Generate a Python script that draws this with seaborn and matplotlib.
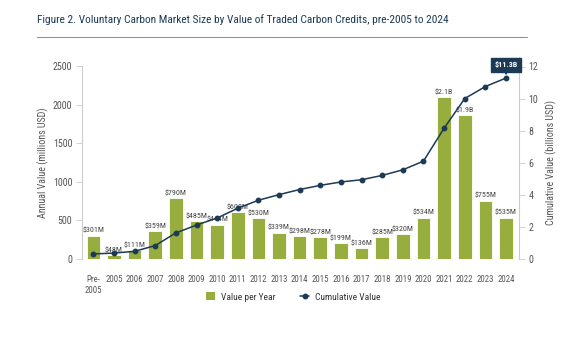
import matplotlib
matplotlib.use("Agg")
import matplotlib.pyplot as plt
import seaborn as sns
import pandas as pd
import numpy as np
from matplotlib.lines import Line2D
from matplotlib.patches import Patch
from matplotlib import font_manager as fm

categories = ["Pre-\n2005", "2005", "2006", "2007", "2008", "2009", "2010", "2011", "2012",
              "2013", "2014", "2015", "2016", "2017", "2018", "2019", "2020", "2021",
              "2022", "2023", "2024"]
annual_values = [301, 48, 111, 359, 790, 485, 444, 602, 530, 339, 298, 278, 199, 136,
                 285, 320, 534, 2100, 1870, 755, 535]
bar_labels = ["$301M", "$48M", "$111M", "$359M", "$790M", "$485M", "$444M", "$602M", "$530M",
              "$339M", "$298M", "$278M", "$199M", "$136M", "$285M", "$320M", "$534M",
              "$2.1B", "$1.9B", "$755M", "$535M"]
cumulative_values = [0.30, 0.35, 0.46, 0.82, 1.61, 2.10, 2.54, 3.15, 3.65, 4.00, 4.32,
                     4.58, 4.79, 4.93, 5.20, 5.55, 6.09, 8.15, 10.00, 10.75, 11.28]

sns.set_theme(style="white")
available = {f.name for f in fm.fontManager.ttflist}
cond = [f for f in ["Roboto Condensed", "DejaVu Sans Condensed", "Liberation Sans Narrow"] if f in available]
plt.rcParams['font.family'] = cond + ['Roboto', 'DejaVu Sans']

GREEN = "#97ad3d"
NAVY = "#1c3a55"
GRAY = "#555555"
SPINE = "#cccccc"

df = pd.DataFrame({"cat": categories, "annual": annual_values, "cum": cumulative_values})
df["x"] = np.arange(len(df))

fig = plt.figure(figsize=(5.81, 3.39), dpi=100)
ax = fig.add_axes([82/581, 1-258.7/339, (519-82)/581, (258.7-66.5)/339])

sns.barplot(data=df, x="cat", y="annual", color=GREEN, width=0.66, ax=ax,
            saturation=1, edgecolor="white", linewidth=0.6)
ax.set_ylim(0, 2500)
ax.set_xlim(-0.55, 20.63)
ax.set_yticks([0, 500, 1000, 1500, 2000, 2500])
for i, (v, lab) in enumerate(zip(annual_values, bar_labels)):
    ax.text(i, v + 25, lab, ha="center", va="bottom", fontsize=5.8, color="#444444")

ax2 = ax.twinx()
ax2.plot(df["x"], df["cum"], color=NAVY, lw=1.1, marker="o", ms=3.2, zorder=5)
ax2.set_ylim(0, 12.0)
ax2.set_yticks([0, 2, 4, 6, 8, 10, 12])

for a in (ax, ax2):
    for s in ["top", "bottom"]:
        a.spines[s].set_visible(False)
ax.spines["right"].set_visible(False)
ax2.spines["left"].set_visible(False)
ax.spines["left"].set_color(SPINE)
ax2.spines["right"].set_color(SPINE)
ax.spines["left"].set_linewidth(0.8)
ax2.spines["right"].set_linewidth(0.8)
ax2.spines["right"].set_bounds(0, 12.6)

ax.tick_params(axis="y", which="both", left=True, length=4, width=0.6, color=SPINE,
               labelsize=7.2, labelcolor=GRAY, pad=3)
ax2.tick_params(axis="y", right=True, length=4, width=0.6, color=SPINE,
                labelsize=7.2, labelcolor=GRAY, pad=3)
ax.tick_params(axis="x", bottom=False, labelsize=6.3, labelcolor=GRAY, pad=6)
ax.set_xlabel("")
ax.set_ylabel("Annual Value (millions USD)", fontsize=7.2, color=GRAY, labelpad=3)
ax2.set_ylabel("Cumulative Value (billions USD)", fontsize=7.2, color=GRAY, labelpad=5)
for lab in ax.get_xticklabels():
    lab.set_va("top")
    lab.set_linespacing(1.3)

# Annotation for final value
ax2.annotate("$11.3B", xy=(20, cumulative_values[-1]), xytext=(0, 9.5),
             textcoords="offset points", ha="center", va="center",
             fontsize=5.8, fontweight="bold", color="white",
             bbox=dict(boxstyle="square,pad=0.45", fc=NAVY, ec=NAVY),
             arrowprops=dict(arrowstyle="-|>", color=NAVY, lw=0.8, mutation_scale=6,
                             shrinkA=0, shrinkB=2))

# Title and rule
fig.text(37/581, 1-20/339, "Figure 2. Voluntary Carbon Market Size by Value of Traded Carbon Credits, pre-2005 to 2024",
         fontsize=8.2, color=NAVY, ha="left", va="center")
fig.add_artist(Line2D([37/581, 527/581], [1-37/339, 1-37/339], color="#7f98ad", lw=0.8))

handles = [Patch(facecolor=GREEN, edgecolor="none", label="Value per Year"),
           Line2D([0], [0], color=NAVY, lw=1.1, marker="o", ms=3.2, label="Cumulative Value")]
fig.legend(handles=handles, loc="center", bbox_to_anchor=(293/581, 1-297/339), ncol=2,
           frameon=False, fontsize=6.8, labelcolor="#333333", handlelength=1.0,
           handleheight=0.9, columnspacing=2.6, handletextpad=0.6)

fig.savefig("out.png", dpi=100, facecolor="white")
